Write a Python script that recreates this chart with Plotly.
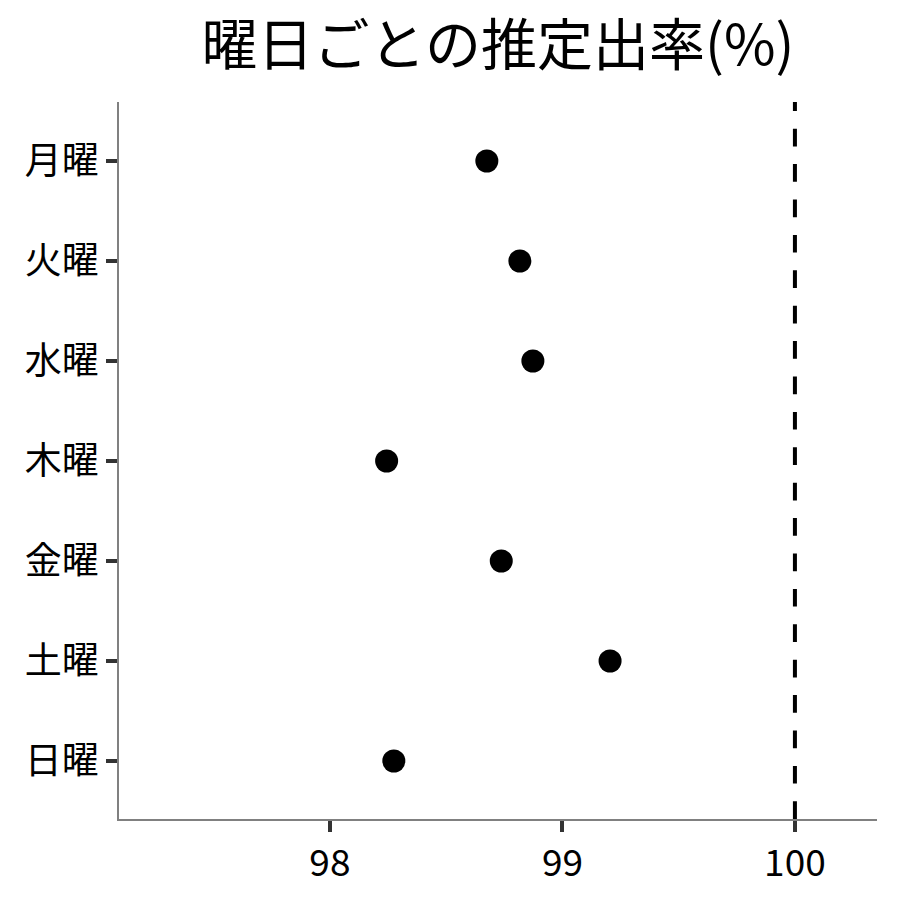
import plotly.graph_objects as go

# ── Data ──────────────────────────────────────────────────────────────────────
DAYS = ['月曜', '火曜', '水曜', '木曜', '金曜', '土曜', '日曜']
RATE = [98.675, 98.817, 98.873, 98.244, 98.737, 99.205, 98.275]
REF_LINE = 100
X_TICKS = [98, 99, 100]

FONT = 'Noto Sans CJK JP'

fig = go.Figure()
fig.add_trace(go.Scatter(
    x=RATE, y=DAYS,
    mode='markers',
    marker=dict(color='black', size=23),
    showlegend=False,
))

# reference line, drawn bottom-up like ggplot
fig.add_shape(type='line', xref='x', yref='paper',
              x0=REF_LINE, x1=REF_LINE, y0=0, y1=1,
              line=dict(color='black', width=4, dash='17.7px,17.7px'))

fig.update_layout(
    title=dict(text='曜日ごとの推定出率(%)', x=0.5, xanchor='center',
               xref='paper', y=0.958, yref='container', yanchor='middle',
               font=dict(family=FONT, size=56, color='black')),
    font=dict(family=FONT, size=37, color='black'),
    width=900, height=900,
    plot_bgcolor='white', paper_bgcolor='white',
    margin=dict(l=111, r=31, t=94, b=89),
)
axis_style = dict(
    showgrid=False, zeroline=False,
    showline=True, linecolor='#808080', linewidth=1.5,
    ticks='outside', ticklen=11, tickwidth=4, tickcolor='#333',
    tickfont=dict(size=37, color='black'),
)
fig.update_xaxes(range=[97.093, 100.353], tickvals=X_TICKS,
                 ticklabelstandoff=0, **axis_style)
fig.update_yaxes(type='category', categoryorder='array', categoryarray=DAYS,
                 range=[6.58, -0.59], ticklabelstandoff=0, **axis_style)

fig.write_html('out.html')
